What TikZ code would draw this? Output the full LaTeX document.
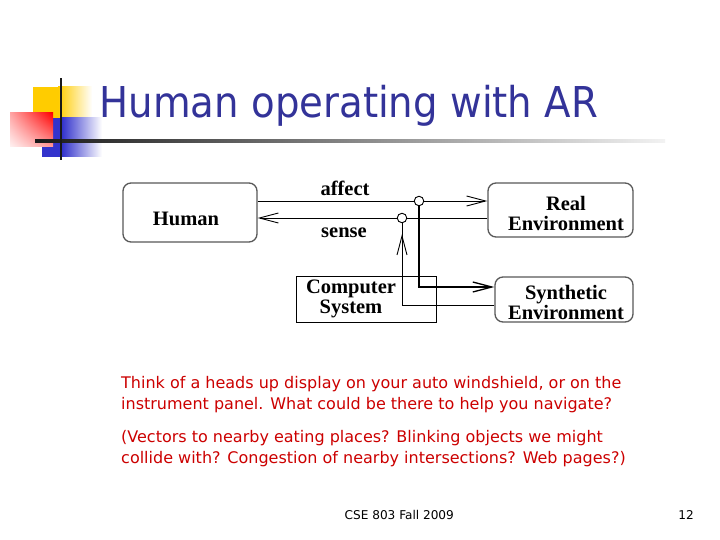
\documentclass[tikz,border=0pt]{standalone}
\usepackage{fontspec}
\setmainfont{DejaVu Sans}
\newfontfamily\figfont{Liberation Serif}
\usetikzlibrary{arrows.meta,positioning,calc,shadings}
\definecolor{titleblue}{RGB}{51,51,153}
\definecolor{notered}{RGB}{204,0,0}
\definecolor{logoyellow}{RGB}{255,204,0}
\definecolor{logoblue}{RGB}{51,51,204}

\begin{document}
\begin{tikzpicture}[x=1pt,y=-1pt,>={Straight Barb[length=19pt,width=10pt]},
  envbox/.style={draw=black!65,line width=1.3pt,rounded corners=8pt},
  sysbox/.style={draw=black,line width=0.8pt},
  boxtext/.style={font=\figfont\bfseries\fontsize{20.5}{20}\selectfont,align=center,inner sep=0pt},
  wire/.style={line width=0.9pt},
  tap/.style={circle,draw,fill=white,line width=0.9pt,inner sep=0pt,minimum size=9.5pt},
  note/.style={font=\fontsize{16}{21}\selectfont,text=notered,align=left,anchor=base west,inner sep=0pt}]
  \useasboundingbox (0,0) rectangle (720,540);
  \fill[white] (0,0) rectangle (720,540);

  % logo squares and rules
  \fill[logoyellow] (33,87) rectangle (58,118);
  \shade[left color=logoyellow,right color=white] (58,87) rectangle (92,118);
  \fill[logoblue] (42,118) rectangle (62,157);
  \shade[left color=logoblue,right color=white] (62,118) rectangle (102,157);
  \shade[upper left=red!35,upper right=red,lower left=red!5,lower right=red!40] (10,113) rectangle (53,147);
  \shade[left color=black!90,right color=black!5] (35,140) rectangle (665,142.5);
  \fill[black!90] (60,78) rectangle (62,160);

  \node[anchor=base west,inner sep=0pt,text=titleblue,font=\fontsize{42.5}{42.5}\selectfont] (title) at (99.5,118)
    {\scalebox{0.91}[1]{Human operating with AR}};

  % diagram
  \node[envbox,minimum width=134pt,minimum height=59pt] (human) at (190,212.5) {};
  \node[envbox,minimum width=145pt,minimum height=54pt] (realenv) at (560.5,210) {};
  \node[sysbox,minimum width=140pt,minimum height=46pt] (compsys) at (366,299) {};
  \node[envbox,minimum width=138pt,minimum height=45pt] (synthenv) at (564,299.5) {};

  \node[boxtext] (humantxt) at (186,218.5) {Human};
  \node[boxtext] (realtxt) at (566,213) {Real\\Environment};
  \node[boxtext] (comptxt) at (351,298.5) {Computer\\System};
  \node[boxtext] (synthtxt) at (566,302) {Synthetic\\Environment};

  \coordinate (affectpt) at (419,201);
  \coordinate (sensept) at (402,218);
  \draw[wire,->] (human.east |- affectpt) -- (realenv.west |- affectpt);
  \draw[wire,->] (realenv.west |- sensept) -- (human.east |- sensept);
  \node[tap] (affectdot) at (affectpt) {};
  \node[tap] (sensedot) at (sensept) {};

  \coordinate (synthin) at ([yshift=12.5pt]synthenv.west);
  \coordinate (synthout) at ([yshift=-5.5pt]synthenv.west);
  \coordinate (sensetip) at ([yshift=-11pt]sensedot.south);
  \draw[line width=2.2pt] (affectdot.south) -- (affectdot.south |- synthin);
  \draw[wire,line width=1.3pt,->] ([xshift=-1.1pt]affectdot.south |- synthin) -- (synthin);
  \draw[wire] (synthout) -| (sensedot.south);
  \draw[wire,->] ([yshift=-30pt]sensetip) -- (sensetip);

  \node[boxtext,anchor=base] (affectlbl) at (345,196) {affect};
  \node[boxtext,anchor=base] (senselbl) at (344,237) {sense};

  % notes and footer
  \node[note] (notea) at (121,409)
    {Think of a heads up display on your auto windshield, or on the\\
     instrument panel. What could be there to help you navigate?};
  \node[note] (noteb) at (121,463)
    {(Vectors to nearby eating places? Blinking objects we might\\
     collide with? Congestion of nearby intersections? Web pages?)};
  \node[anchor=base west,inner sep=0pt,font=\fontsize{12.1}{12.1}\selectfont] (footer) at (344.5,519) {CSE 803 Fall 2009};
  \node[anchor=base east,inner sep=0pt,font=\fontsize{12.1}{12.1}\selectfont] (pagenum) at (694,519) {12};
\end{tikzpicture}
\end{document}
